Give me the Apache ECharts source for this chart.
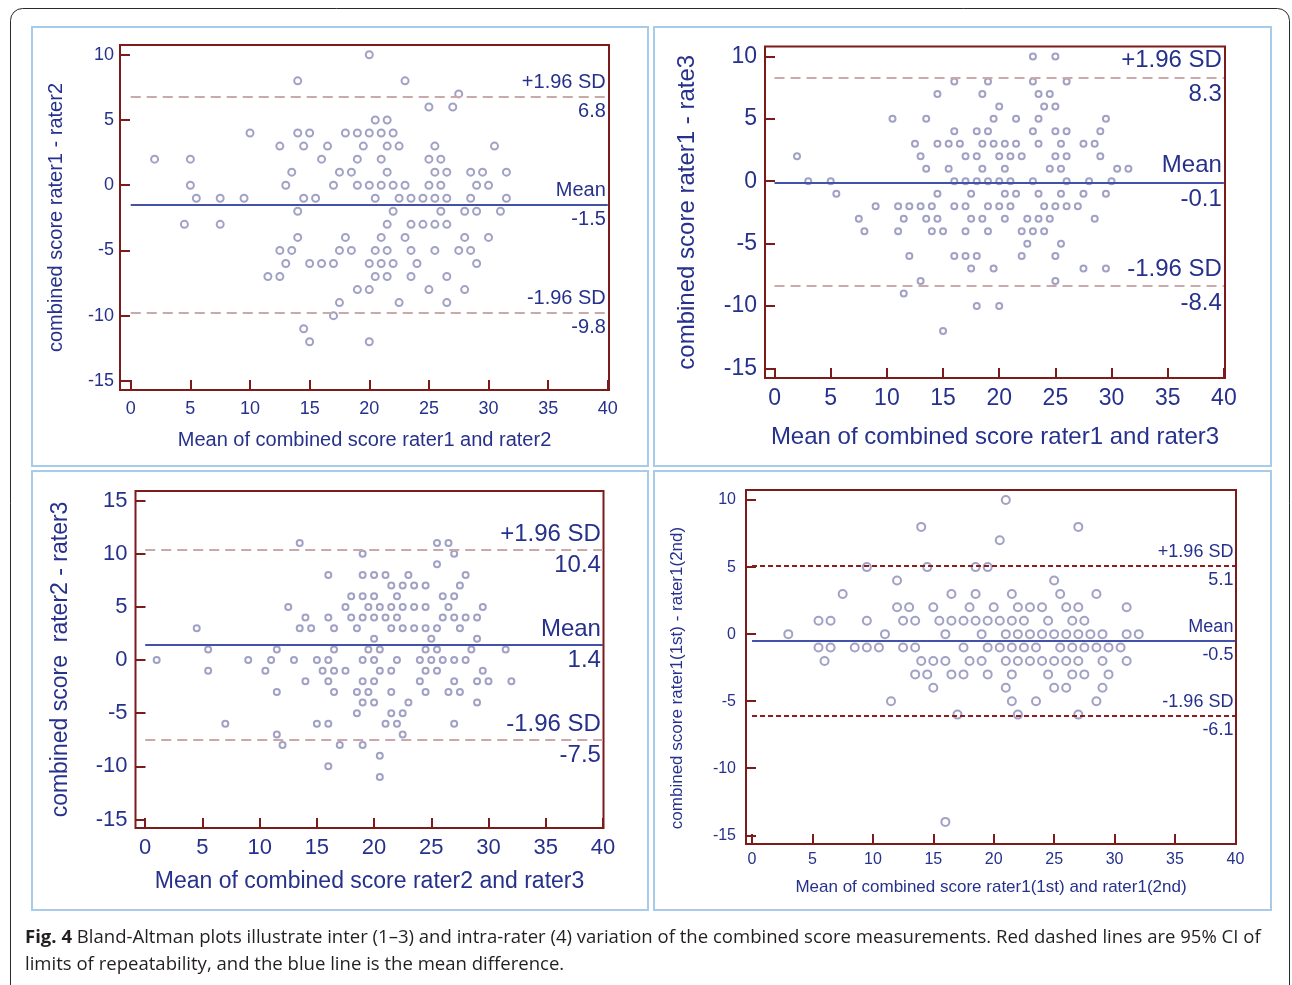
<!DOCTYPE html>
<html>
<head>
<meta charset="utf-8">
<script src="https://cdn.jsdelivr.net/npm/echarts@6/dist/echarts.min.js"></script>
<style>
  html, body { margin: 0; padding: 0; background: #fff; }
  #chart { width: 1292px; height: 985px; }
</style>
</head>
<body>
<div id="chart"></div>
<script>
// ---- data ----
const xTicks = [0, 5, 10, 15, 20, 25, 30, 35, 40];
const yTicksA = [-15, -10, -5, 0, 5, 10];
const yTicksB = [-15, -10, -5, 0, 5, 10, 15];
const limitNames = ['+1.96 SD', 'Mean', '-1.96 SD'];

// rater1 - rater2
const p1Limits = [6.8, -1.5, -9.8];
const p1Points = [
  [2,2],[5,2],[5,0],[5.5,-1],[4.5,-3],[7.5,-1],[7.5,-3],[9.5,-1],[10,4],
  [12.5,3],[13.5,1],[13,0],[14,8],[14,4],[15,4],[14.5,3],[16.5,3],[16,2],[17.5,1],[18.5,1],[17,0],[18,4],[19,4],[19,2],[19,0],[19.5,3],
  [14.5,-1],[15.5,-1],[14,-2],[14,-4],[18,-4],[12.5,-5],[13.5,-5],[17.5,-5],[18.5,-5],[13,-6],[15,-6],[16,-6],[17,-6],
  [11.5,-7],[12.5,-7],[19,-8],[17.5,-9],[17,-10],[14.5,-11],[15,-12],
  [20,10],[23,8],[27.5,7],[25,6],[27,6],[20.5,5],[21.5,5],
  [20,4],[21,4],[22,4],
  [21.5,3],[22.5,3],[25.5,3],[30.5,3],
  [21,2],[25,2],[26,2],
  [21.5,1],[25.5,1],[26.5,1],[28.5,1],[29.5,1],[31.5,1],
  [20,0],[21,0],[22,0],[23,0],[25,0],[26,0],[29,0],[30,0],
  [20.5,-1],[22.5,-1],[23.5,-1],[24.5,-1],[25.5,-1],[26.5,-1],[28.5,-1],[31.5,-1],
  [22,-2],[26,-2],[28,-2],[29,-2],[31,-2],
  [21.5,-3],[23.5,-3],[24.5,-3],[25.5,-3],[26.5,-3],
  [21,-4],[23,-4],[28,-4],[30,-4],
  [20.5,-5],[21.5,-5],[23.5,-5],[25.5,-5],[27.5,-5],[28.5,-5],
  [20,-6],[21,-6],[22,-6],[24,-6],[29,-6],
  [20.5,-7],[21.5,-7],[23.5,-7],[26.5,-7],
  [20,-8],[25,-8],[28,-8],
  [22.5,-9],[26.5,-9],
  [20,-12]
];

// rater1 - rater3
const p2Limits = [8.3, -0.1, -8.4];
const p2Points = [
  [16,8],[19,8],[14.5,7],[18.5,7],[20,6],[10.5,5],[13.5,5],[19.5,5],[16,4],[18,4],[19,4],
  [12.5,3],[14.5,3],[15.5,3],[16.5,3],[18.5,3],[19.5,3],
  [2,2],[13,2],[17,2],[18,2],[20,2],
  [13.5,1],[15.5,1],[18.5,1],
  [3,0],[5,0],[16,0],[17,0],[18,0],[19,0],[20,0],
  [5.5,-1],[14.5,-1],[17.5,-1],
  [9,-2],[11,-2],[12,-2],[13,-2],[14,-2],[16,-2],[17,-2],[19,-2],[20,-2],
  [7.5,-3],[11.5,-3],[13.5,-3],[14.5,-3],[17.5,-3],[18.5,-3],
  [8,-4],[11,-4],[14,-4],[15,-4],[17,-4],[19,-4],
  [12,-6],[16,-6],[17,-6],[18,-6],
  [17.5,-7],[19.5,-7],
  [13,-8],[11.5,-9],[18,-10],[20,-10],[15,-12],
  [23,10],[25,10],
  [23,8],[26,8],
  [23.5,7],[24.5,7],
  [24,6],[25,6],
  [21.5,5],[23.5,5],[29.5,5],
  [23,4],[25,4],[26,4],[29,4],
  [20.5,3],[21.5,3],[23.5,3],[25.5,3],[27.5,3],[28.5,3],
  [21,2],[22,2],[25,2],[26,2],[29,2],
  [20.5,1],[24.5,1],[25.5,1],[30.5,1],[31.5,1],
  [21,0],[23,0],[26,0],[28,0],[30,0],
  [20.5,-1],[21.5,-1],[23.5,-1],[25.5,-1],[27.5,-1],[29.5,-1],
  [21,-2],[24,-2],[25,-2],[26,-2],[27,-2],
  [20.5,-3],[22.5,-3],[23.5,-3],[24.5,-3],[28.5,-3],
  [22,-4],[23,-4],[24,-4],
  [22.5,-5],[25.5,-5],
  [22,-6],[25,-6],
  [27.5,-7],[29.5,-7],
  [25,-8]
];

// rater2 - rater3
const p3Limits = [10.4, 1.4, -7.5];
const p3Points = [
  [13.5,11],[16,8],[12.5,5],[14,4],[16,4],[4.5,3],[13.5,3],[14.5,3],[16.5,3],
  [5.5,1],[11.5,1],[16.5,1],[1,0],[9,0],[11,0],[13,0],[15,0],[16,0],
  [5.5,-1],[10.5,-1],[15.5,-1],[16.5,-1],[14,-2],[16,-2],[11.5,-3],[16.5,-3],
  [7,-6],[15,-6],[16,-6],[11.5,-7],[12,-8],[16,-10],
  [25.5,11],[26.5,11],
  [19,10],[27,10],
  [25.5,9],
  [19,8],[20,8],[21,8],[23,8],[28,8],
  [21.5,7],[22.5,7],[23.5,7],[24.5,7],[27.5,7],
  [18,6],[19,6],[20,6],[22,6],[26,6],[27,6],
  [17.5,5],[19.5,5],[20.5,5],[21.5,5],[22.5,5],[23.5,5],[24.5,5],[26.5,5],[29.5,5],
  [18,4],[19,4],[20,4],[21,4],[22,4],[26,4],[27,4],[28,4],[29,4],
  [18.5,3],[21.5,3],[22.5,3],[23.5,3],[24.5,3],[25.5,3],[27.5,3],
  [20,2],[25,2],[29,2],
  [19.5,1],[20.5,1],[24.5,1],[25.5,1],[28.5,1],[31.5,1],
  [19,0],[20,0],[22,0],[24,0],[25,0],[26,0],[27,0],[28,0],
  [17.5,-1],[20.5,-1],[21.5,-1],[24.5,-1],[25.5,-1],[29.5,-1],
  [19,-2],[20,-2],[24,-2],[27,-2],[29,-2],[30,-2],[32,-2],
  [18.5,-3],[19.5,-3],[21.5,-3],[24.5,-3],[26.5,-3],[27.5,-3],
  [19,-4],[20,-4],[23,-4],[29,-4],
  [18.5,-5],[21.5,-5],[22.5,-5],
  [21,-6],[22,-6],[27,-6],
  [22.5,-7],
  [17,-8],[19,-8],
  [20.5,-9],[20.5,-11]
];

// rater1 (1st) - rater1 (2nd)
const p4Limits = [5.1, -0.5, -6.1];
const p4Points = [
  [14,8],[21,10],[27,8],[20.5,7],
  [9.5,5],[14.5,5],[18.5,5],[19.5,5],
  [12,4],[25,4],
  [7.5,3],[16.5,3],[18.5,3],[21.5,3],[25.5,3],[28.5,3],
  [12,2],[13,2],[15,2],[18,2],[20,2],[22,2],[23,2],[24,2],[26,2],[27,2],[31,2],
  [5.5,1],[6.5,1],[9.5,1],[12.5,1],[13.5,1],[15.5,1],[16.5,1],[17.5,1],[18.5,1],[19.5,1],[20.5,1],[21.5,1],[22.5,1],[24.5,1],[26.5,1],[27.5,1],
  [3,0],[11,0],[16,0],[19,0],[21,0],[22,0],[23,0],[24,0],[25,0],[26,0],[27,0],[28,0],[29,0],[31,0],[32,0],
  [5.5,-1],[6.5,-1],[8.5,-1],[9.5,-1],[10.5,-1],[12.5,-1],[13.5,-1],[17.5,-1],[19.5,-1],[20.5,-1],[21.5,-1],[22.5,-1],[23.5,-1],[25.5,-1],[26.5,-1],[27.5,-1],[28.5,-1],[29.5,-1],[30.5,-1],
  [6,-2],[14,-2],[15,-2],[16,-2],[18,-2],[19,-2],[21,-2],[22,-2],[23,-2],[24,-2],[25,-2],[26,-2],[27,-2],[29,-2],[31,-2],
  [13.5,-3],[14.5,-3],[16.5,-3],[17.5,-3],[19.5,-3],[21.5,-3],[24.5,-3],[26.5,-3],[27.5,-3],[29.5,-3],
  [15,-4],[21,-4],[25,-4],[26,-4],[29,-4],
  [11.5,-5],[21.5,-5],[23.5,-5],[28.5,-5],
  [17,-6],[22,-6],[27,-6],
  [16,-14]
];

// ---- styling ----
const FRAME = '#7d1a1a';
const INK = '#26318c';
const FONT = '"Liberation Sans", Arial, sans-serif';

const panels = [
  { pts: p1Points, lim: p1Limits, yTicks: yTicksA,
    box: [120, 45, 489, 345], xr: [-0.9, 40.1], yr: [-15.7, 10.75],
    xName: 'Mean of combined score rater1 and rater2', yName: 'combined score rater1 - rater2',
    nameSize: 20, tickSize: 18, limSize: 20, limGap: 29, xGap: 40, yGap: 54, xMargin: 10, yMargin: 6,
    yNamePad: 0, sym: 7, dash: 'soft' },
  { pts: p2Points, lim: p2Limits, yTicks: yTicksA,
    box: [765, 46.5, 460, 331.5], xr: [-0.85, 40.1], yr: [-15.77, 10.8],
    xName: 'Mean of combined score rater1 and rater3', yName: 'combined score rater1 - rate3',
    nameSize: 24, tickSize: 23, limSize: 24, limGap: 34, xGap: 47, yGap: 66, xMargin: 9, yMargin: 8,
    yNamePad: 0, sym: 6, dash: 'soft' },
  { pts: p3Points, lim: p3Limits, yTicks: yTicksB,
    box: [135.5, 491, 468, 337], xr: [-0.85, 40.05], yr: [-15.8, 15.9],
    xName: 'Mean of combined score rater2 and rater3', yName: 'combined score  rater2 - rater3',
    nameSize: 23, tickSize: 22, limSize: 24, limGap: 31, xGap: 42, yGap: 63, xMargin: 9, yMargin: 8,
    yNamePad: 0, sym: 6, dash: 'soft' },
  { pts: p4Points, lim: p4Limits, yTicks: yTicksA,
    box: [746, 490, 490, 354], xr: [-0.5, 40.05], yr: [-15.65, 10.75],
    xName: 'Mean of combined score rater1(1st) and rater1(2nd)', yName: 'combined score rater1(1st) - rater1(2nd)',
    nameSize: 17, tickSize: 16, limSize: 18, limGap: 28, xGap: 35, yGap: 60, xMargin: 8, yMargin: 10,
    yNamePad: 22, sym: 8, dash: 'dark' }
];

// one line per limit, name above it and value below it
function limitEntries(p) {
  return p.lim.map((v, k) => {
    let style;
    if (k === 1) style = { color: '#4352a8', width: 2, type: 'solid' };
    else if (p.dash === 'soft') style = { color: '#c9a9a9', width: 2, type: [10, 6] };
    else style = { color: '#8b1c1c', width: 2, type: [5, 3] };
    return [
      { coord: [0, v], lineStyle: style,
        label: { show: true, position: 'insideEnd', distance: 2, align: 'right',
          formatter: '{a|' + limitNames[k] + '}\n{a|' + v.toFixed(1) + '}',
          rich: { a: { color: INK, fontSize: p.limSize, fontFamily: FONT, lineHeight: p.limGap, align: 'right' } } } },
      { coord: [40, v] }
    ];
  });
}

const grids = [], xAxes = [], yAxes = [], series = [];
panels.forEach((p, i) => {
  grids.push({ left: p.box[0], top: p.box[1], width: p.box[2], height: p.box[3],
    show: true, borderColor: FRAME, borderWidth: 2, backgroundColor: 'transparent' });
  const tick = (vals) => ({ show: true, inside: true, length: 10, customValues: vals,
    lineStyle: { color: FRAME, width: 2 } });
  xAxes.push({ gridIndex: i, type: 'value', min: p.xr[0], max: p.xr[1],
    name: p.xName, nameLocation: 'middle', nameGap: p.xGap,
    nameTextStyle: { color: INK, fontSize: p.nameSize, fontFamily: FONT },
    axisLine: { show: false, onZero: false }, splitLine: { show: false },
    axisTick: tick(xTicks),
    axisLabel: { customValues: xTicks, color: INK, fontSize: p.tickSize, fontFamily: FONT, margin: p.xMargin } });
  yAxes.push({ gridIndex: i, type: 'value', min: p.yr[0], max: p.yr[1],
    name: p.yName, nameLocation: 'middle', nameGap: p.yGap,
    nameTextStyle: { color: INK, fontSize: p.nameSize, fontFamily: FONT, padding: [0, p.yNamePad, 0, 0] },
    axisLine: { show: false, onZero: false }, splitLine: { show: false },
    axisTick: tick(p.yTicks),
    axisLabel: { customValues: p.yTicks, color: INK, fontSize: p.tickSize, fontFamily: FONT, margin: p.yMargin } });
  series.push({ type: 'scatter', xAxisIndex: i, yAxisIndex: i, data: p.pts,
    symbol: 'emptyCircle', symbolSize: p.sym,
    itemStyle: { color: '#8a8ab6', borderWidth: 1.4 },
    markLine: { silent: true, symbol: 'none', animation: false, data: limitEntries(p) } });
});

const panelBoxes = [[32, 27, 616, 439], [654, 27, 617, 439], [32, 471, 616, 439], [654, 471, 617, 439]];
const CAP_FONT = '"Open Sans", sans-serif';
const graphic = [
  { type: 'rect', shape: { x: 10.5, y: 8.5, width: 1279, height: 990, r: 12 },
    style: { fill: 'none', stroke: '#2a2a2a', lineWidth: 1 }, silent: true }
].concat(panelBoxes.map(b => ({ type: 'rect', shape: { x: b[0], y: b[1], width: b[2], height: b[3] },
    style: { fill: 'none', stroke: '#a9cbea', lineWidth: 2 }, silent: true })))
.concat([
  { type: 'text', left: 25, top: 929, scaleX: 1.03, silent: true,
    style: { text: '{b|Fig. 4} Bland-Altman plots illustrate inter (1\u20133) and intra-rater (4) variation of the combined score measurements. Red dashed lines are 95% CI of',
      fill: '#231f20', fontSize: 18, fontFamily: CAP_FONT,
      rich: { b: { fontWeight: 'bold', fontSize: 18, fontFamily: CAP_FONT, fill: '#231f20' } } } },
  { type: 'text', left: 25, top: 956, scaleX: 1.03, silent: true,
    style: { text: 'limits of repeatability, and the blue line is the mean difference.',
      fill: '#231f20', fontSize: 18, fontFamily: CAP_FONT } }
]);

const chart = echarts.init(document.getElementById('chart'));
chart.setOption({
  animation: false,
  backgroundColor: '#fff',
  grid: grids,
  xAxis: xAxes,
  yAxis: yAxes,
  series: series,
  graphic: graphic
});
</script>
</body>
</html>
